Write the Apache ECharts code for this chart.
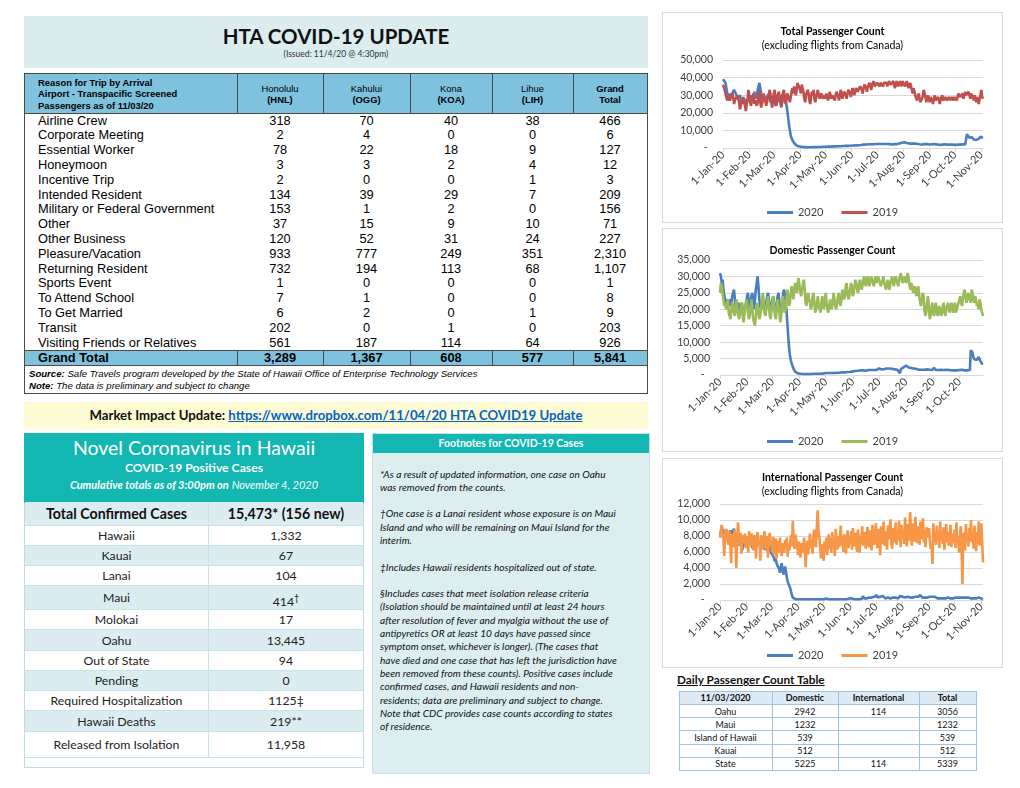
<!DOCTYPE html>
<html><head><meta charset="utf-8">
<script src="https://cdn.jsdelivr.net/npm/echarts@6/dist/echarts.min.js"></script>
<style>
html,body{margin:0;padding:0;width:1020px;height:788px;background:#fff;overflow:hidden;}
.a{position:absolute;box-sizing:border-box;}
.chartbox{position:absolute;border:1px solid #d9d9d9;box-sizing:border-box;background:#fff;}
</style></head>
<body>
<div id="root"></div>
<script>
// ---------------- DATA ----------------
const reasons = ['Airline Crew','Corporate Meeting','Essential Worker','Honeymoon','Incentive Trip','Intended Resident','Military or Federal Government','Other','Other Business','Pleasure/Vacation','Returning Resident','Sports Event','To Attend School','To Get Married','Transit','Visiting Friends or Relatives'];
const airportHeads = [['Honolulu','(HNL)'],['Kahului','(OGG)'],['Kona','(KOA)'],['Lihue','(LIH)'],['Grand','Total']];
const hnl = [318,2,78,3,2,134,153,37,120,933,732,1,7,6,202,561];
const ogg = [70,4,22,3,0,39,1,15,52,777,194,0,1,2,0,187];
const koa = [40,0,18,2,0,29,2,9,31,249,113,0,0,0,1,114];
const lih = [38,0,9,4,1,7,0,10,24,351,68,0,0,1,0,64];
const grandTotalCol = ['466','6','127','12','3','209','156','71','227','2,310','1,107','1','8','9','203','926'];
const grandTotalRow = ['3,289','1,367','608','577','5,841'];

const caseLabels = ['Hawaii','Kauai','Lanai','Maui','Molokai','Oahu','Out of State','Pending','Required Hospitalization','Hawaii Deaths','Released from Isolation'];
const caseValues = ['1,332','67','104','414<sup style="font-size:9px">†</sup>','17','13,445','94','0','1125‡','219**','11,958'];
const totalConfirmed = '15,473* (156 new)';

const dailyRegions = ['Oahu','Maui','Island of Hawaii','Kauai','State'];
const dailyDomestic = [2942,1232,539,512,5225];
const dailyIntl = [114,'','','',114];
const dailyTotal = [3056,1232,539,512,5339];

const footnoteLines = [
 '*As a result of updated information, one case on Oahu',
 'was removed from the counts.',
 '',
 '†One case is a Lanai resident whose exposure is on Maui',
 'Island and who will be remaining on Maui Island for the',
 'interim.',
 '',
 '‡Includes Hawaii residents hospitalized out of state.',
 '',
 '§Includes cases that meet isolation release criteria',
 '(Isolation should be maintained until at least 24 hours',
 'after resolution of fever and myalgia without the use of',
 'antipyretics OR at least 10 days have passed since',
 'symptom onset, whichever is longer). (The cases that',
 'have died and one case that has left the jurisdiction have',
 'been removed from these counts). Positive cases include',
 'confirmed cases, and Hawaii residents and non-',
 'residents; data are preliminary and subject to change.',
 'Note that CDC provides case counts according to states',
 'of residence.'
];

// Daily passenger counts, in thousands, from 1 Jan (2019 aligned by date)
const total2020 = [
 39,38,38,37,34,31,32, 31,30,31,29,31,30,33, 34,33,30,28,29,27,30, 29,26,27,25,28,27,26, 25,27,28,
 27,26,28,30,29,27,32, 31,28,30,33,35,37,34, 31,29,27,30,29,26,28, 27,29,31,28,26,25,29, 30,
 27,26,24,23,25,27,29, 28,26,24,25,28,29,28, 27,24,21,17,13,10,7, 5.5,4.5,3.5,2.8,2.2,1.7,1.3, 1.1,1,0.9,
 0.8,0.7,0.6,0.6,0.5,0.6,0.5, 0.5,0.5,0.4,0.5,0.5,0.4,0.5, 0.5,0.5,0.6,0.5,0.5,0.6,0.6, 0.6,0.6,0.6,0.6,0.7,0.6,0.7, 0.7,0.7,
 0.7,0.7,0.8,0.8,0.7,0.8,0.8, 0.8,0.8,0.9,0.8,0.9,0.9,0.9, 1.0,1.0,0.9,1.0,1.0,1.1,1.1, 1.1,1.2,1.1,1.2,1.2,1.3,1.2, 1.3,1.4,1.3,
 1.4,1.5,1.4,1.5,1.6,1.5,1.6, 1.7,1.6,1.7,1.8,1.7,1.8,1.8, 1.9,1.8,1.9,2.0,1.9,2.0,2.1, 1.9,2.0,2.1,2.0,2.2,2.1,2.0, 2.2,2.3,
 2.2,2.4,2.3,2.1,2.2,2.3,2.2, 2.1,2.3,2.2,2.4,2.3,2.2,2.1, 2.3,2.4,2.2,2.0,1.9,2.1,2.2, 2.3,2.4,2.2,1.2,2.5,2.6,2.7, 2.8,3.0,3.2,
 3.4,3.2,3.0,2.9,2.8,2.6,2.7, 2.5,2.4,2.6,2.5,2.3,2.4,2.5, 2.3,2.2,2.4,2.3,2.2,2.1,2.3, 2.2,2.0,2.1,2.3,2.2,2.0,2.1, 2.2,2.0,1.9,
 2.0,2.1,2.3,2.1,1.9,2.0,2.2, 2.1,1.9,2.0,2.1,1.9,1.8,2.0, 2.1,1.9,1.8,2.0,2.1,1.9,1.8, 1.9,2.0,1.8,1.9,2.0,1.8,1.9, 2.0,1.9,
 1.8,1.9,2.0,1.9,1.8,2.0,1.9, 1.8,2.0,2.1,1.9,1.8,2.0,1.9, 7.8,7.2,6.8,5.9,5.2,5.5,6.1, 5.3,4.8,5.0,5.6,4.6,4.2,4.8, 5.2,5.8,6.4,
 6.0,5.4,5.6
];
const total2019 = [
 36,35,33,31,29,27,30, 29,27,26,28,31,29,25, 27,28,26,30,31,26,22, 24,27,25,29,30,24,21, 25,28,33,
 30,26,24,27,29,31,25, 27,28,24,26,30,33,26, 23,25,27,31,32,27,24, 26,30,28,33,31,26,23, 28,
 31,33,27,24,29,28,32, 31,25,23,30,29,33,27, 25,28,31,32,30,26,29, 32,34,31,35,36,30,33, 37,38,36,
 33,31,36,37,32,28,26, 30,29,33,31,27,25,29, 32,30,33,28,26,29,31, 33,30,28,27,31,32,28, 29,30,
 28,31,30,27,29,32,30, 28,30,31,29,27,30,32, 31,29,27,30,33,31,28, 29,32,33,30,28,31,33, 34,31,29,
 32,34,33,30,31,34,35, 32,31,33,35,36,33,31, 34,36,37,34,32,35,36, 37,35,33,36,37,38,35, 34,36,
 37,38,36,35,37,38,36, 35,37,36,38,37,35,36, 38,37,36,35,37,38,36, 34,36,38,37,35,36,38, 37,35,38,
 39,37,35,36,38,37,34, 35,37,36,33,31,34,33, 30,29,27,28,31,30,26, 25,28,30,33,34,29,26, 27,30,28,
 26,29,28,27,25,28,30, 27,26,28,29,27,25,28, 29,30,27,26,28,29,27, 26,28,29,27,26,29,28, 27,29,
 30,28,27,29,31,32,29, 28,30,31,28,29,32,30, 29,31,32,30,28,31,32, 29,27,30,28,26,29,27, 25,28,30,
 33,29,28
];
const domestic2020 = [
 31,30,28,29,26,24,23, 22,23,21,22,23,21,22, 24,25,26,23,20,19,21, 22,20,19,21,22,20,18, 19,21,22,
 24,25,22,20,21,24,25, 22,20,23,26,28,30,27, 23,21,20,22,24,21,19, 20,22,24,25,23,20,19, 21,
 23,24,21,19,20,22,24, 25,22,20,19,21,24,26, 25,23,20,16,12,8.5,6, 4.5,3.5,2.8,2,1.5,1,0.8, 0.6,0.5,0.5,
 0.5,0.4,0.4,0.4,0.3,0.4,0.3, 0.3,0.3,0.3,0.3,0.4,0.3,0.3, 0.3,0.4,0.4,0.3,0.3,0.4,0.4, 0.4,0.4,0.5,0.4,0.4,0.5,0.5, 0.5,0.5,
 0.5,0.6,0.5,0.6,0.6,0.6,0.7, 0.6,0.7,0.7,0.6,0.7,0.8,0.7, 0.8,0.8,0.7,0.8,0.9,0.8,0.9, 0.9,0.8,0.9,1.0,0.9,1.0,1.0, 0.9,1.1,1.0,
 1.1,1.2,1.1,1.2,1.3,1.2,1.3, 1.3,1.2,1.4,1.3,1.2,1.4,1.3, 1.4,1.3,1.2,1.4,1.5,1.3,1.4, 1.5,1.4,1.3,1.5,1.6,1.4,1.5, 1.7,1.9,
 2.0,1.9,1.8,1.7,1.9,2.0,1.8, 1.9,2.1,2.0,1.8,1.9,2.0,1.8, 1.7,1.9,2.0,1.8,1.7,1.9,1.8, 1.6,1.7,1.9,0.5,1.8,2.0,2.1, 2.3,2.5,2.8,
 2.9,2.7,2.5,2.3,2.2,2.0,2.1, 1.9,1.8,2.0,1.9,1.7,1.8,1.9, 1.7,1.6,1.8,1.7,1.6,1.5,1.7, 1.6,1.5,1.6,1.7,1.5,1.4,1.6, 1.5,1.4,1.5,
 1.6,2.2,1.7,1.5,1.4,1.6,1.5, 1.4,1.5,1.6,1.4,1.3,1.5,1.4, 1.5,1.6,1.4,1.3,1.5,1.4,1.3, 1.4,1.5,1.3,1.4,1.5,1.3,1.4, 1.5,1.6,
 1.5,1.4,1.5,1.6,2.2,1.5,1.4, 1.5,1.6,1.4,1.5,1.6,1.5,7.5, 7.6,6.8,5.5,4.8,5.0,5.4,4.6, 5.2,5.5,4.9,4.2,3.6,3.4,3.3
];
const domestic2019 = [
 25,28,27,25,23,21,22, 20,22,23,19,18,17,20, 22,21,19,18,21,23,20, 18,17,19,21,22,18,16, 19,21,23,
 22,19,17,18,21,23,20, 17,16,15,18,21,22,19, 17,18,20,23,25,22,19, 18,20,22,24,21,18,17, 20,
 22,24,21,18,17,20,23, 21,19,16,18,22,24,21, 19,20,23,26,24,21,22, 25,27,25,23,26,28,27, 25,28,29.5,
 27,25,24,26,28,29,26, 22,21,24,25,23,22,20, 21,24,25,22,19,20,22, 24,21,20,19,22,24,21, 20,23,
 25,22,20,19,21,23,21, 20,22,25,23,21,20,22, 24,25,22,21,23,26,25, 23,24,27,28,25,23,24, 26,28,27,
 24,25,27,29,28,26,25, 27,29,28,26,27,29,30, 28,27,29,30,28,27,29, 30,29,28,27,29,30,28, 29,30,
 29,28,27,28,29,30,28, 27,26,28,29,27,26,28, 29,30,28,27,29,30,29, 28,27,29,30,31,29,28, 29,30,29,
 28,30,31,29,27,26,28, 27,25,26,27,25,24,26, 27,24,22,21,23,25,24, 20,18,19,22,24,21,17, 18,20,22,
 19,18,20,22,20,18,19, 21,20,18,19,21,22,19, 18,20,21,22,20,19,21, 22,20,19,21,22,19,20, 21,22,
 23,24,22,21,23,25,26, 24,22,23,25,24,23,22, 26,25,23,22,24,23,21, 22,20,23,22,20,19,18
];
const intl2020 = [
 8.0,8.5,9.2,8.8,8.4,7.9,8.5, 8.8,8.6,8.2,7.8,8.4,8.7,8.3, 7.9,8.5,8.9,8.6,8.0,7.5,7.8, 7.2,6.8,7.4,7.6,7.0,6.2,7.1, 6.9,6.8,7.3,
 7.0,6.6,7.4,7.2,6.9,7.5,6.8, 6.5,7.0,7.3,6.9,6.6,7.2,7.0, 6.8,7.4,7.1,6.7,6.4,7.0,6.9, 6.3,6.6,7.1,6.8,6.2,6.5,6.9, 6.1,
 5.8,5.6,5.9,5.3,4.8,5.2,4.6, 4.3,4.5,3.9,3.4,4.1,4.6,3.8, 3.2,3.6,4.2,3.5,2.8,2.3,2.0, 1.8,1.5,1.0,0.6,0.3,0.2,0.1, 0.1,0.1,0.1,
 0.1,0.1,0.2,0.1,0.1,0.3,0.1, 0.1,0.2,0.1,0.3,0.1,0.1,0.1, 0.1,0.1,0.1,0.1,0.1,0.1,0.1, 0.1,0.1,0.1,0.1,0.1,0.1,0.1, 0.1,0.1,
 0.1,0.1,0.1,0.2,0.1,0.1,0.1, 0.1,0.1,0.1,0.1,0.2,0.1,0.1, 0.1,0.1,0.1,0.1,0.1,0.1,0.2, 0.1,0.1,0.1,0.1,0.1,0.2,0.1, 0.1,0.1,0.2,
 0.1,0.1,0.2,0.1,0.2,0.1,0.2, 0.2,0.1,0.2,0.2,0.1,0.3,0.2, 0.2,0.5,0.2,0.3,0.2,0.2,0.3, 0.2,0.3,0.2,0.3,0.3,0.2,0.3, 0.4,0.3,
 0.3,0.6,0.3,0.2,0.3,0.4,0.3, 0.2,0.5,0.3,0.3,0.2,0.4,0.3, 0.3,0.5,0.3,0.2,0.3,0.4,0.3, 0.3,0.5,0.3,0.4,0.3,0.2,0.4, 0.5,0.3,0.4,
 0.4,0.3,0.5,0.3,0.4,0.3,0.4, 0.3,0.4,0.3,0.4,0.3,0.3,0.4, 0.3,0.4,0.3,0.3,0.4,0.3,0.3, 0.6,0.4,0.3,0.4,0.3,0.3,0.4, 0.3,0.3,0.4,
 0.3,0.4,0.3,0.3,0.4,0.3,0.3, 0.4,0.3,0.3,0.2,0.3,0.3,0.2, 0.3,0.3,0.2,0.3,0.3,0.2,0.3, 0.2,0.3,0.2,0.3,0.2,0.2,0.3, 0.2,0.2,
 0.2,0.3,0.2,0.2,0.3,0.2,0.2, 0.3,0.2,0.2,0.3,0.2,0.2,0.3, 0.2,0.2,0.3,0.2,0.3,0.2,0.2, 0.3,0.2,0.2,0.3,0.2,0.3,0.4, 0.3,0.2,0.3,
 0.2,0.2,0.1
];
const intl2019 = [
 7.8,8.5,9.4,8.2,7.6,5.5,8.1, 8.9,8.3,7.4,6.9,8.6,7.2,4.6, 8.3,7.9,6.6,8.8,7.5,4.0,7.3, 9.7,7.8,6.9,8.4,5.8,7.7,8.1, 7.2,8.3,6.5,
 7.0,8.0,5.9,8.6,7.2,6.8,8.3, 7.9,6.2,7.4,8.1,5.2,7.7,8.5, 6.9,7.3,4.9,8.1,7.6,6.4,7.8, 8.6,7.0,6.1,8.0,5.3,7.5,8.4, 6.8,
 7.2,6.0,7.9,5.6,6.8,7.7,5.2, 6.5,7.4,5.9,7.8,6.3,5.5,7.1, 6.8,5.9,7.5,6.6,7.8,5.4,7.0, 6.2,7.3,8.1,6.7,9.9,7.2,6.4, 8.2,7.5,7.0,
 5.6,7.3,6.6,5.3,7.1,6.2,5.9, 7.8,6.4,4.1,6.8,7.4,5.7,6.9, 8.3,6.5,7.6,5.8,7.9,8.8,7.1, 6.6,9.1,11.2,8.6,7.9,6.4,5.2, 7.0,6.0,
 4.9,7.3,6.1,7.8,5.6,6.8,8.2, 6.4,7.7,5.9,8.5,6.9,7.4,5.5, 8.9,7.2,6.3,8.0,6.6,7.7,9.3, 6.8,7.5,6.0,8.2,7.0,5.8,7.9, 8.7,6.5,7.6,
 7.1,8.6,6.3,9.0,7.4,6.7,8.4, 7.2,6.0,8.8,7.7,5.9,8.1,7.0, 9.2,6.8,7.9,8.5,6.4,7.6,9.1, 7.3,6.6,8.7,7.5,6.2,9.4,7.8, 6.9,8.0,
 9.6,7.4,6.5,8.9,7.7,5.6,9.2, 8.1,7.0,9.8,6.8,7.9,8.6,6.3, 9.3,7.6,8.2,10.1,7.1,6.4,9.0, 8.3,7.2,9.7,6.9,8.5,7.4,9.9, 8.0,6.6,9.4,
 7.8,8.8,7.0,10.3,8.2,6.7,9.5, 7.4,8.6,11.0,7.9,6.8,9.6,8.1, 7.3,10.4,8.5,7.1,9.2,8.0,6.9, 9.8,7.6,8.4,10.2,7.2,8.7,6.6, 9.1,7.8,8.3,
 9.0,7.3,6.4,7.0,4.5,9.6,7.5, 8.4,6.9,9.3,7.7,8.2,6.5,9.8, 7.4,8.6,7.0,9.1,6.3,8.0,9.5, 7.2,8.5,6.8,7.9,9.4,6.6,8.3, 7.1,7.6,
 8.8,6.5,9.7,7.3,8.0,5.9,7.8, 9.2,6.9,2.0,8.4,7.1,6.2,9.5, 7.6,8.1,6.7,9.0,7.4,10.0,7.2, 8.6,6.4,9.3,7.7,6.1,8.5,7.0, 9.8,6.8,8.2,
 9.6,7.4,4.7
];
const monthAbbr = ['Jan','Feb','Mar','Apr','May','Jun','Jul','Aug','Sep','Oct','Nov','Dec'];
const seriesNames = ['2020','2019'];

// ---------------- LAYOUT HELPERS ----------------
const root = document.getElementById('root');
function box(x,y,w,h,html,css){
  const d=document.createElement('div'); d.className='a';
  d.style.cssText=`left:${x}px;top:${y}px;width:${w}px;height:${h}px;`+(css||'');
  d.innerHTML=html||''; root.appendChild(d); return d;
}
const AR = "font-family:'Liberation Sans',Arial,sans-serif;";

// Title banner
box(24,16,624,52,'', 'background:#dcedf0;');
box(24,22,624,28,'HTA COVID-19 UPDATE','font-family:Lato;font-weight:700;font-size:20.5px;line-height:28px;text-align:center;color:#111;');
box(24,48,624,12,'(Issued: 11/4/20 @ 4:30pm)','font-family:Lato;font-size:8.5px;line-height:12px;text-align:center;color:#333;');

// Main table
const colB = [24,237,323,410,492,573,647];
box(24,73,624,321,'','border:1.5px solid #4a4a4a;');
box(25,74,622,40,'','background:#7fc2de;border-bottom:1.5px solid #4a4a4a;');
for(let c=1;c<colB.length-1;c++){ box(colB[c]-0.5,74,1.5,40,'','background:#4a4a4a;'); }
box(38,76,198,36,'<div>Reason for Trip by Arrival<br>Airport - Transpacific Screened<br>Passengers as of 11/03/20</div>',AR+'font-weight:700;font-size:9.4px;line-height:11.3px;color:#000;display:flex;align-items:center;');
airportHeads.forEach((h,i)=>{
  const bold = i===4 ? 'font-weight:700;' : '';
  box(colB[i+1],74,colB[i+2]-colB[i+1],40,`<div><span style="${bold}">${h[0]}</span><br><b>${h[1]}</b></div>`,AR+'font-size:9.4px;line-height:11.5px;text-align:center;color:#000;display:flex;align-items:center;justify-content:center;');
});
const rowH = 14.8;
reasons.forEach((r,i)=>{
  const y = 113.5 + i*rowH;
  box(38,y,200,rowH,r,AR+'font-size:12.8px;line-height:14.8px;white-space:nowrap;color:#000;');
  const vals=[hnl[i],ogg[i],koa[i],lih[i],grandTotalCol[i]];
  vals.forEach((v,j)=>{
    box(colB[j+1],y,colB[j+2]-colB[j+1],rowH,String(v),AR+'font-size:12.8px;line-height:14.8px;text-align:center;color:#000;');
  });
});
box(25,350,622,16,'','background:#7fc2de;border-top:1.5px solid #4a4a4a;border-bottom:1px solid #4a4a4a;');
for(let c=1;c<colB.length-1;c++){ box(colB[c]-0.5,350,1.5,16,'','background:#4a4a4a;'); }
box(38,350,200,16,'Grand Total',AR+'font-weight:700;font-size:12.8px;line-height:16px;color:#000;');
grandTotalRow.forEach((v,j)=>{
  box(colB[j+1],350,colB[j+2]-colB[j+1],16,v,AR+'font-weight:700;font-size:12.8px;line-height:16px;text-align:center;color:#000;');
});
box(29,368,600,12,'<b>Source:</b> Safe Travels program developed by the State of Hawaii Office of Enterprise Technology Services',AR+'font-style:italic;font-size:9.6px;line-height:12px;white-space:nowrap;color:#000;');
box(29,380,600,12,'<b>Note:</b> The data is preliminary and subject to change',AR+'font-style:italic;font-size:9.6px;line-height:12px;white-space:nowrap;color:#000;');

// Market impact banner
box(24,402,624,27,'<b>Market Impact Update: </b><b style="color:#0563c1;text-decoration:underline;">https://www.dropbox.com/11/04/20 HTA COVID19 Update</b>','background:#fdfbd3;font-family:Lato;font-size:13.2px;line-height:27px;text-align:center;white-space:nowrap;color:#111;');

// Novel Coronavirus box
box(24,433,340,335,'','border:1px solid #b9dde3;background:#fff;');
box(24,433,340,70,'','background:#12b7b1;');
box(24,436,340,24,'Novel Coronavirus in Hawaii','font-family:Lato;font-size:19.5px;line-height:24px;text-align:center;color:#fff;');
box(24,460,340,16,'COVID-19 Positive Cases','font-family:Lato;font-weight:700;font-size:12.2px;line-height:16px;text-align:center;color:#fff;');
box(24,477,340,15,'<b><i>Cumulative totals as of 3:00pm on</i></b> <i>November 4, 2020</i>','font-family:Lato;font-size:11px;line-height:15px;text-align:center;color:#fff;white-space:nowrap;');
const caseRowB = [502,526,546,566,586,610,630,651,671,691,711,732,758];
const caseBg = (i)=> (i%2===0 ? '#dcedf1' : '#ffffff');
for(let i=0;i<caseRowB.length-1;i++){
  box(25,caseRowB[i],338,caseRowB[i+1]-caseRowB[i],'',`background:${caseBg(i)};border-bottom:1.5px solid #c7e2e8;`);
}
box(207.5,502,1.5,256,'','background:#c7e2e8;');
box(25,502,183,24,'Total Confirmed Cases','font-family:Lato;font-weight:700;font-size:14.2px;line-height:24px;text-align:center;color:#111;');
box(209,502,154,24,totalConfirmed,'font-family:Lato;font-weight:700;font-size:14.2px;line-height:24px;text-align:center;color:#111;');
caseLabels.forEach((l,i)=>{
  const y=caseRowB[i+1], h=caseRowB[i+2]-caseRowB[i+1];
  box(25,y,183,h,l,`font-family:Lato;font-size:12.3px;line-height:${h}px;text-align:center;white-space:nowrap;color:#222;`);
  box(209,y,154,h,caseValues[i],`font-family:Lato;font-size:12.3px;line-height:${h}px;text-align:center;white-space:nowrap;color:#222;`);
});

// Footnotes box
box(372,433,278,341,'','background:#ddeef1;border:1px solid #c7e2e8;');
box(373,434,276,19,'Footnotes for COVID-19 Cases','background:#12b7b1;font-family:Lato;font-weight:700;font-size:10.5px;line-height:19px;text-align:center;color:#fff;');
box(380,467.5,270,footnoteLines.length*13.3, footnoteLines.map(l=>l===''?'&nbsp;':l).join('<br>'),'font-family:Lato;font-style:italic;font-size:10.1px;line-height:13.3px;white-space:nowrap;color:#111;');

// Daily passenger table
box(677,672,220,15,'Daily Passenger Count Table','font-family:Lato;font-weight:700;font-size:11.8px;line-height:15px;text-decoration:underline;white-space:nowrap;color:#111;');
const dCol = [679,772,838,919,976];
const dRow = [691,704.5,717.7,730.9,744.1,757.3,770.5];
box(679,691,297,13.5,'','background:#ddebf7;');
const dHeads=['11/03/2020','Domestic','International','Total'];
dHeads.forEach((h,j)=> box(dCol[j],691,dCol[j+1]-dCol[j],13.5,h,'font-family:Lato;font-weight:700;font-size:9px;line-height:13.5px;text-align:center;white-space:nowrap;color:#111;'));
dailyRegions.forEach((r,i)=>{
  const y=dRow[i+1], h=dRow[i+2]-dRow[i+1];
  const vals=[r,dailyDomestic[i],dailyIntl[i],dailyTotal[i]];
  vals.forEach((v,j)=> box(dCol[j],y,dCol[j+1]-dCol[j],h,String(v),`font-family:Lato;font-size:9px;line-height:${h}px;text-align:center;white-space:nowrap;color:#111;`));
});
dRow.forEach(y=> box(679,y-0.5,297,1,'','background:#9dc3e6;'));
dCol.forEach(x=> box(x-0.5,691,1.2,79.5,'','background:#9dc3e6;'));

// ---------------- CHARTS ----------------
function buildDates(n){
  const out=[]; let t=Date.UTC(2020,0,1);
  for(let i=0;i<n;i++){ const d=new Date(t+i*86400000); out.push(d.getUTCDate()+'-'+monthAbbr[d.getUTCMonth()]+'-20'); }
  return out;
}
const isFirst=(i,v)=> typeof v==='string' && v.startsWith('1-');
function makeChart(x,y,w,h,cfg){
  const d=document.createElement('div'); d.className='chartbox';
  d.style.cssText=`left:${x}px;top:${y}px;width:${w}px;height:${h}px;`;
  root.appendChild(d);
  const inner=document.createElement('div'); inner.style.cssText=`width:${w-2}px;height:${h-2}px;`;
  d.appendChild(inner);
  const ch=echarts.init(inner,null,{renderer:'canvas'});
  const dates=buildDates(Math.max(cfg.a.length,cfg.b.length));
  ch.setOption({
    animation:false,
    textStyle:{fontFamily:'Lato'},
    title:{text:cfg.title,subtext:cfg.sub||'',left:'center',top:cfg.titleTop,itemGap:3,
      textStyle:{fontFamily:'Lato',fontSize:10.5,fontWeight:'bold',color:'#000'},
      subtextStyle:{fontFamily:'Lato',fontSize:10.5,color:'#000'}},
    legend:{data:seriesNames,bottom:cfg.legendBottom,left:'center',icon:'rect',itemWidth:26,itemHeight:3,itemGap:18,
      textStyle:{fontFamily:'Lato',fontSize:11,color:'#404040'}},
    grid:{left:cfg.left,right:19,top:cfg.top,height:cfg.height,containLabel:false},
    xAxis:{type:'category',data:dates,boundaryGap:false,
      axisLine:{lineStyle:{color:'#d9d9d9',width:1}},
      axisTick:{show:true,interval:isFirst,length:4,lineStyle:{color:'#d9d9d9'}},
      axisLabel:{interval:isFirst,rotate:45,fontSize:11,color:'#404040',fontFamily:'Lato',margin:5}},
    yAxis:{type:'value',min:0,max:cfg.max,interval:cfg.step,
      axisLine:{show:false},axisTick:{show:false},
      splitLine:{lineStyle:{color:'#d9d9d9'}},
      axisLabel:{fontSize:10.5,color:'#404040',fontFamily:'Lato',margin:10,
        formatter:v=> v===0 ? '-  ' : (v*1000).toLocaleString('en-US')}},
    series:[
      {name:seriesNames[0],type:'line',data:cfg.a,symbol:'none',showSymbol:false,lineStyle:{width:2.6,color:'#4a7ebf'},itemStyle:{color:'#4a7ebf'}},
      {name:seriesNames[1],type:'line',data:cfg.b,symbol:'none',showSymbol:false,lineStyle:{width:2.6,color:cfg.color2},itemStyle:{color:cfg.color2}}
    ]
  });
}
makeChart(662,12,341,211,{title:'Total Passenger Count',sub:'(excluding flights from Canada)',titleTop:8,
  a:total2020,b:total2019,color2:'#c0504d',max:50,step:10,left:60,top:47,height:88,legendBottom:-1});
makeChart(662,228,341,224,{title:'Domestic Passenger Count',titleTop:11,
  a:domestic2020,b:domestic2019,color2:'#9bbb59',max:35,step:5,left:57,top:31,height:115,legendBottom:-1});
makeChart(662,458,341,210,{title:'International Passenger Count',sub:'(excluding flights from Canada)',titleTop:8,
  a:intl2020,b:intl2019,color2:'#f79646',max:12,step:2,left:57,top:45,height:96,legendBottom:1});
</script>
</body></html>
